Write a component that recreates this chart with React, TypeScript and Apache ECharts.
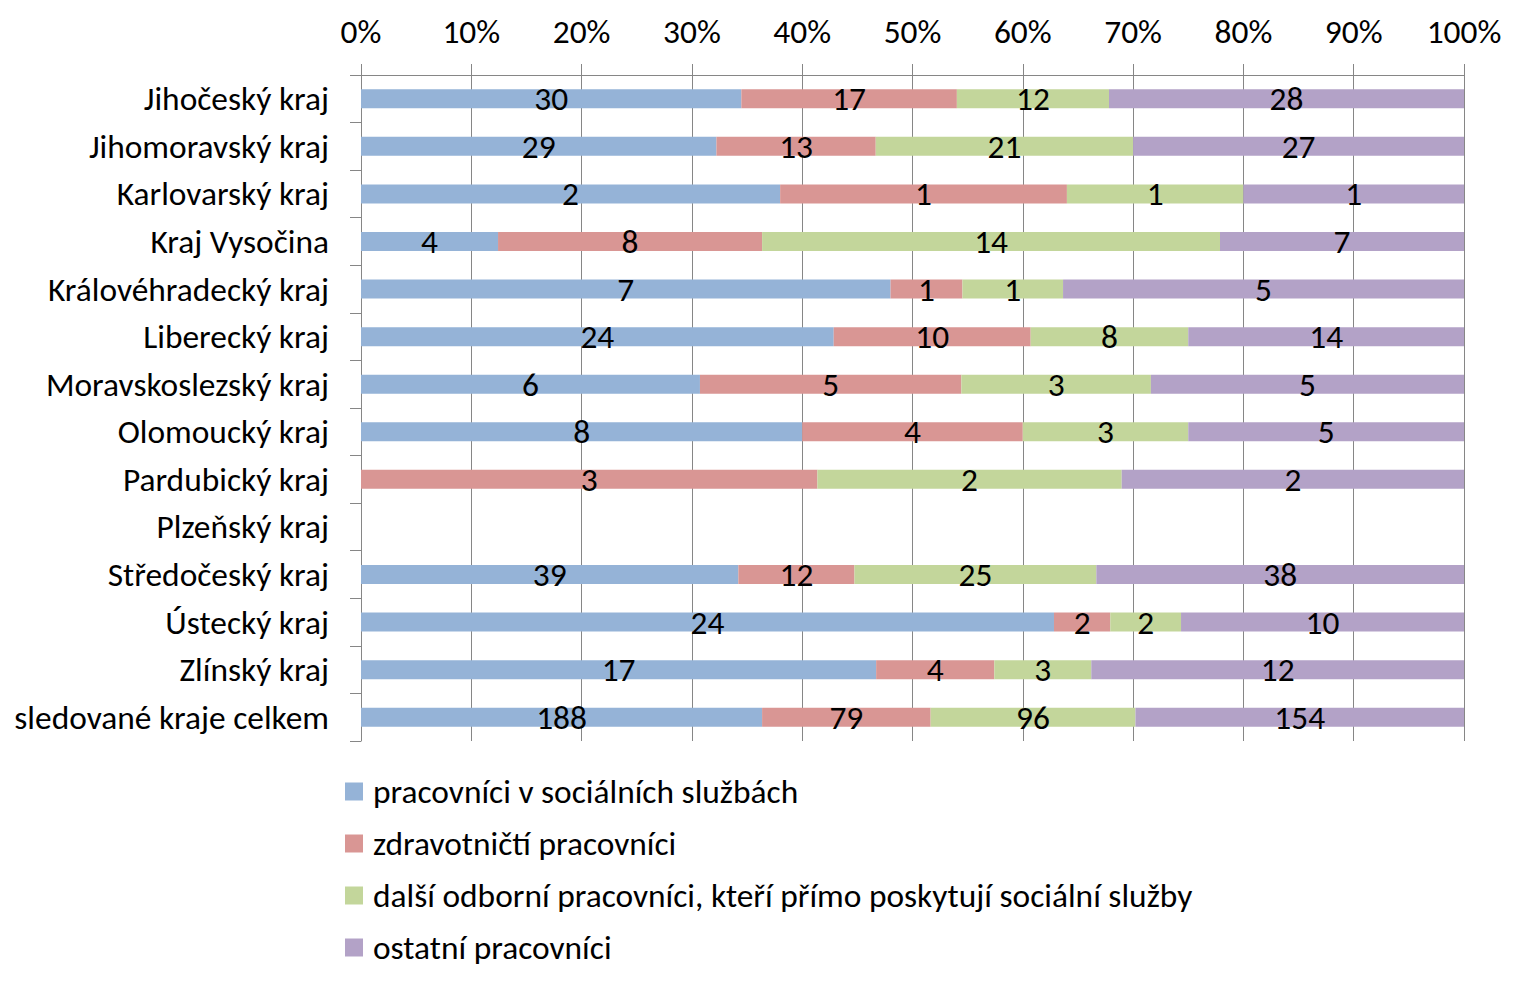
import React, { useEffect, useRef } from "react";
import * as echarts from "echarts";

const categories = [
  "Jihočeský kraj",
  "Jihomoravský kraj",
  "Karlovarský kraj",
  "Kraj Vysočina",
  "Královéhradecký kraj",
  "Liberecký kraj",
  "Moravskoslezský kraj",
  "Olomoucký kraj",
  "Pardubický kraj",
  "Plzeňský kraj",
  "Středočeský kraj",
  "Ústecký kraj",
  "Zlínský kraj",
  "sledované kraje celkem",
];

const seriesNames = [
  "pracovníci v sociálních službách",
  "zdravotničtí pracovníci",
  "další odborní pracovníci, kteří přímo poskytují sociální služby",
  "ostatní pracovníci",
];

const socialni = [30, 29, 1.9, 4.1, 7.0, 24, 5.9, 8, null, null, 39, 24, 17, 188];
const zdravotnicti = [17, 13, 1.3, 7.9, 0.95, 10, 4.55, 4, 3, null, 12, 1.95, 3.9, 79];
const dalsi = [12, 21, 0.8, 13.7, 1.33, 8, 3.3, 3, 2, null, 25, 2.45, 3.2, 96];
const ostatni = [28, 27, 1.0, 7.3, 5.3, 14, 5.45, 5, 2.25, null, 38, 9.8, 12.3, 154];

const colors = ["#95B3D7", "#D99694", "#C3D69B", "#B3A2C7"];
const xTicks = [0, 10, 20, 30, 40, 50, 60, 70, 80, 90, 100];

const FONT = "Carlito, Calibri, Lato, sans-serif";
const FS = 33.4;

export default function App() {
  const ref = useRef<HTMLDivElement>(null);
  useEffect(() => {
    document.body.style.margin = "0";
    if (!ref.current) return;
    const chart = echarts.init(ref.current, null, { renderer: "svg" });
    const all = [socialni, zdravotnicti, dalsi, ostatni];
    const totals = categories.map((_, i) =>
      all.reduce((s, arr) => s + (arr[i] == null ? 0 : (arr[i] as number)), 0)
    );
    const series = all.map((arr, si) => ({
      name: seriesNames[si],
      type: "bar",
      stack: "total",
      barWidth: 19,
      itemStyle: { color: colors[si] },
      label: {
        show: true,
        position: "inside",
        color: "#000",
        fontFamily: FONT,
        fontSize: FS,
        formatter: (p: any) =>
          p.data && p.data.raw != null ? String(Math.round(p.data.raw)) : "",
      },
      data: arr.map((v, i) =>
        v == null || totals[i] === 0
          ? { value: null, raw: null }
          : { value: ((v as number) / totals[i]) * 100, raw: v }
      ),
    }));
    chart.setOption({
      animation: false,
      textStyle: { fontFamily: FONT },
      grid: { left: 361, right: 61, top: 75, height: 666, containLabel: false },
      xAxis: {
        type: "value",
        position: "top",
        min: xTicks[0],
        max: xTicks[xTicks.length - 1],
        interval: 10,
        axisLine: { show: true, lineStyle: { color: "#868686", width: 1 } },
        axisTick: { show: true, length: 11, lineStyle: { color: "#868686" } },
        splitLine: { show: true, lineStyle: { color: "#868686", width: 1 } },
        axisLabel: {
          formatter: "{value}%",
          color: "#000",
          fontFamily: FONT,
          fontSize: FS,
          margin: 27,
        },
      },
      yAxis: {
        type: "category",
        inverse: true,
        data: categories,
        axisLine: { show: true, lineStyle: { color: "#868686", width: 1 } },
        axisTick: { show: true, length: 11, lineStyle: { color: "#868686" } },
        axisLabel: {
          color: "#000",
          fontFamily: FONT,
          fontSize: FS,
          margin: 32,
        },
      },
      legend: {
        orient: "vertical",
        left: 345,
        top: 775,
        padding: 0,
        itemWidth: 18,
        itemHeight: 18,
        itemGap: 19,
        icon: "rect",
        data: seriesNames,
        textStyle: {
          color: "#000",
          fontFamily: FONT,
          fontSize: FS,
          padding: [0, 0, 0, 5],
        },
      },
      series,
    });
    return () => chart.dispose();
  }, []);
  return <div ref={ref} style={{ width: 1525, height: 985 }} />;
}
